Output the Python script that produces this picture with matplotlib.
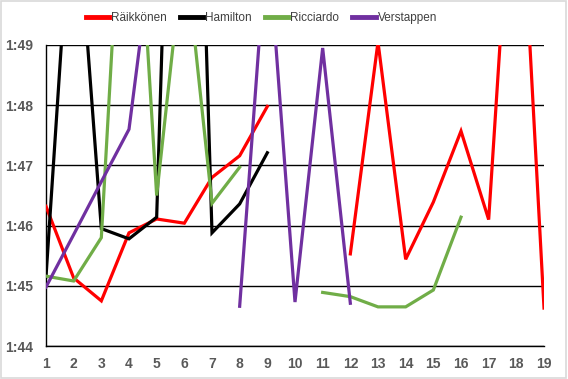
import matplotlib
matplotlib.use("Agg")
import matplotlib.pyplot as plt
from matplotlib.patches import Rectangle
import numpy as np

nan = np.nan
laps = list(range(1, 20))

# lap times in seconds (1:xx -> 60 + xx); values above 109 run off the chart
raikkonen = [106.32, 105.13, 104.75, 105.88, 106.11, 106.04, 106.80, 107.16, 107.98,
             nan, nan, 105.53, 109.05, 105.44, 106.39, 107.57, 106.10, 113.20, 104.63]
hamilton = [105.15, 112.10, 105.95, 105.78, 106.14, 121.00, 105.88, 106.36, 107.21,
            nan, nan, nan, nan, nan, nan, nan, nan, nan, nan]
ricciardo = [105.16, 105.08, 105.80, 114.00, 106.50, 110.70, 106.37, 106.97, nan,
             nan, 104.89, 104.82, 104.65, 104.65, 104.93, 106.14, nan, nan, nan]
verstappen = [104.98, 105.85, 106.73, 107.60, 111.20, nan, nan, 104.66, 110.90,
              104.73, 108.95, 104.71, nan, nan, nan, nan, nan, nan, nan]

series = [
    ("Räikkönen", raikkonen, "#FF0000"),
    ("Hamilton", hamilton, "#000000"),
    ("Ricciardo", ricciardo, "#70AD47"),
    ("Verstappen", verstappen, "#7030A0"),
]

yticks = [104, 105, 106, 107, 108, 109]
ytick_labels = ["1:44", "1:45", "1:46", "1:47", "1:48", "1:49"]

plt.rcParams["font.family"] = ["Liberation Sans", "DejaVu Sans"]

fig = plt.figure(figsize=(5.68, 3.79), dpi=100)
ax = fig.add_axes([46 / 568, 1 - 346 / 379, 498 / 568, 301 / 379])

for name, vals, color in series:
    ax.plot(laps, vals, color=color, lw=2.3, label=name,
            solid_joinstyle="miter", zorder=3)

ax.set_xlim(1, 19)
ax.set_ylim(104, 109)
ax.set_xticks(laps)
ax.set_yticks(yticks)
ax.set_yticklabels(ytick_labels)
ax.grid(axis="y", color="black", lw=1.0, zorder=1)
ax.set_axisbelow(True)

for s in ["top", "right"]:
    ax.spines[s].set_visible(False)
for s in ["left", "bottom"]:
    ax.spines[s].set_color("black")
    ax.spines[s].set_linewidth(1.0)

ax.tick_params(axis="both", length=0, labelsize=10, labelcolor="#595959")
ax.tick_params(axis="y", pad=9)
ax.tick_params(axis="x", pad=8)
for lbl in ax.get_xticklabels() + ax.get_yticklabels():
    lbl.set_fontweight("bold")

leg = fig.legend(loc="center", bbox_to_anchor=(0.46, 0.952), ncol=4,
                 frameon=False, fontsize=8.5, handlelength=2.0,
                 handletextpad=0.15, columnspacing=1.1)
for t in leg.get_texts():
    t.set_color("#404040")
for h in leg.get_lines():
    h.set_linewidth(3.5)

fig.patches.append(Rectangle((0.001, 0.003), 0.995, 0.994, transform=fig.transFigure,
                             fill=False, edgecolor="#D9D9D9", lw=1.2))

fig.savefig("out.png", dpi=100, facecolor="white")
